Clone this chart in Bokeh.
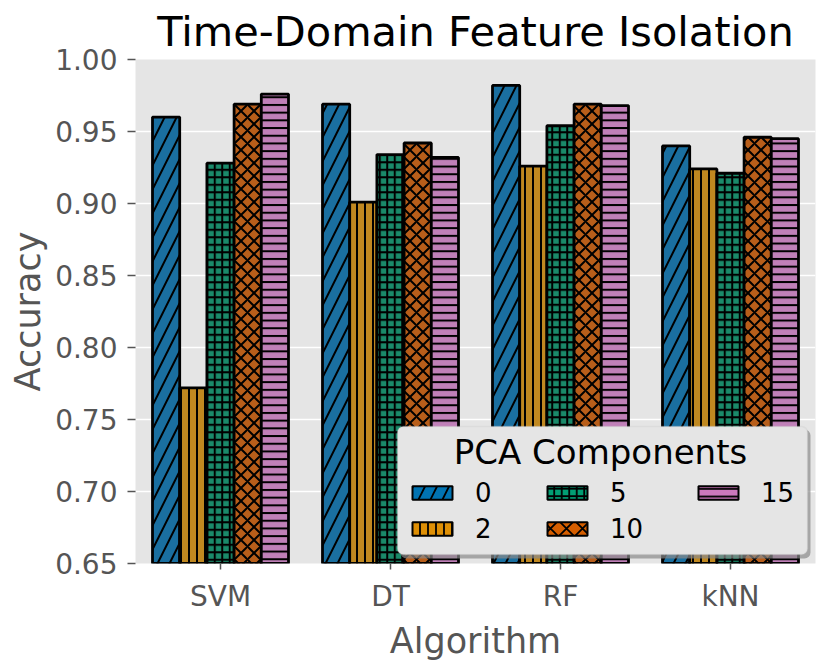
from bokeh.plotting import figure
from bokeh.models import (FactorRange, Range1d, FixedTicker, NumeralTickFormatter, Legend,
                          LegendItem, ColumnDataSource, Label, BoxAnnotation)
from bokeh.transform import dodge
from bokeh.embed import file_html
from bokeh.resources import INLINE

algorithms = ["SVM", "DT", "RF", "kNN"]
pca_components = ["0", "2", "5", "10", "15"]
acc_0 = [0.960, 0.969, 0.982, 0.940]
acc_2 = [0.772, 0.901, 0.926, 0.924]
acc_5 = [0.928, 0.934, 0.954, 0.921]
acc_10 = [0.969, 0.942, 0.969, 0.946]
acc_15 = [0.976, 0.932, 0.968, 0.945]
y_ticks = [0.65, 0.70, 0.75, 0.80, 0.85, 0.90, 0.95, 1.00]

series = [acc_0, acc_2, acc_5, acc_10, acc_15]
bar_colors = ["#1a6fa0", "#c08820", "#1a8a6a", "#b85e1a", "#c080b8"]
legend_colors = ["#0173b2", "#de8f05", "#029e73", "#d55e00", "#cc78bc"]
hatches = ["right_diagonal_line", "vertical_line", "cross", "diagonal_cross", "horizontal_line"]
hatch_scales = [24, 8, 7.5, 13, 7.7]
legend_hatch_scales = [24, 8, 7.5, 16, 7.7]

FONT = "DejaVu Sans"

p = figure(x_range=FactorRange(*algorithms), y_range=Range1d(0.65, 1.0),
           width=830, height=663, output_backend="svg", toolbar_location=None,
           min_border_left=135, min_border_right=15, min_border_top=59, min_border_bottom=99,
           title="Time-Domain Feature Isolation")
p.background_fill_color = "#e5e5e5"
p.border_fill_color = "white"
p.outline_line_color = None

p.title.text_font = FONT
p.title.text_font_size = "41.5px"
p.title.text_font_style = "normal"
p.title.text_color = "black"
p.title.align = "center"
p.title.standoff = 8

src = ColumnDataSource(dict(alg=algorithms, **{f"s{i}": s for i, s in enumerate(series)}))
width = 0.16
offsets = [-0.32, -0.16, 0.0, 0.16, 0.32]
legend_items = []
for i, name in enumerate(pca_components):
    xs = dodge("alg", offsets[i], range=p.x_range)
    p.vbar(x=xs, top=f"s{i}", bottom=0.0, width=width,
           source=src, fill_color=bar_colors[i], line_color="black", line_width=2.8,
           hatch_pattern=hatches[i], hatch_color="black", hatch_weight=2,
           hatch_scale=hatch_scales[i])
    # hidden twin renderer: never drawn on the plot, only supplies the legend swatch style
    r = p.vbar(x=xs, top=f"s{i}", bottom=0.0, width=width, source=src, visible=False,
               fill_color=legend_colors[i], line_color="black",
               line_width=2, hatch_pattern=hatches[i], hatch_color="black", hatch_weight=1.8,
               hatch_scale=legend_hatch_scales[i])
    legend_items.append(LegendItem(label=name, renderers=[r]))

p.yaxis.ticker = FixedTicker(ticks=y_ticks)
p.yaxis.formatter = NumeralTickFormatter(format="0.00")
for ax in (p.xaxis[0], p.yaxis[0]):
    ax.axis_line_color = None
    ax.major_tick_line_color = "#555555"
    ax.major_tick_line_width = 1.5
    ax.minor_tick_line_color = None
    ax.major_tick_in = 0
    ax.major_label_text_font = FONT
    ax.major_label_text_font_size = "28px"
    ax.major_label_text_color = "#555555"
    ax.axis_label_text_font = FONT
    ax.axis_label_text_font_size = "35px"
    ax.axis_label_text_font_style = "normal"
    ax.axis_label_text_color = "#555555"
p.yaxis.major_tick_out = 8
p.yaxis.major_label_standoff = 10
p.yaxis.axis_label = "Accuracy"
p.yaxis.axis_label_standoff = 4
p.xaxis.major_tick_out = 6
p.xaxis.major_label_standoff = 10
p.xaxis.axis_label = "Algorithm"
p.xaxis.axis_label_standoff = 5

p.xgrid.grid_line_color = None
p.ygrid.grid_line_color = "white"
p.ygrid.grid_line_width = 1.5

# legend frame (shadow + box), in screen px relative to the plot frame
shadow = BoxAnnotation(left=265, right=675, bottom=5, top=134, left_units="screen",
                       right_units="screen", bottom_units="screen", top_units="screen",
                       fill_color="#8a8a8a", fill_alpha=0.7, line_color=None, border_radius=6)
box = BoxAnnotation(left=262, right=672, bottom=9, top=137, left_units="screen",
                    right_units="screen", bottom_units="screen", top_units="screen",
                    fill_color="#e5e5e5", fill_alpha=1.0, line_color="#c8c8c8", line_width=1.5,
                    border_radius=6)
p.add_layout(shadow)
p.add_layout(box)

p.add_layout(Label(x=465, y=112, x_units="screen", y_units="screen", text="PCA Components",
                   text_align="center", text_baseline="alphabetic", text_font=FONT,
                   text_font_size="34px", text_color="black"))

columns = [([0, 1], (272, 18)), ([2, 3], (407, 18)), ([4], (558, 54))]
for idx, loc in columns:
    lg = Legend(items=[legend_items[k] for k in idx], location=loc, orientation="vertical")
    lg.margin = 0
    lg.padding = 0
    lg.spacing = 3
    lg.label_text_font = FONT
    lg.label_text_font_size = "26px"
    lg.label_text_color = "black"
    lg.label_standoff = 18
    lg.label_height = 33
    lg.glyph_width = 50
    lg.glyph_height = 17
    lg.background_fill_alpha = 0
    lg.border_line_color = None
    p.add_layout(lg)

open("out.html", "w").write(file_html(p, INLINE))
